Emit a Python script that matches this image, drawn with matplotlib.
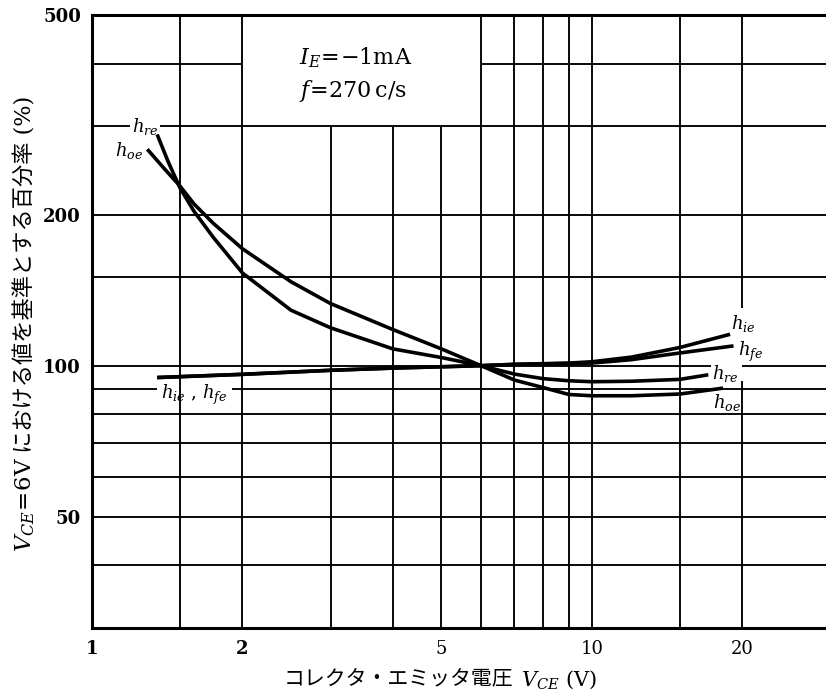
"""h パラメータの V_CE 依存性 (V_CE=6V 基準の百分率), 両対数グラフ"""
import matplotlib
matplotlib.use("Agg")
import matplotlib.pyplot as plt
from matplotlib.ticker import NullLocator

plt.rcParams["font.family"] = ["DejaVu Serif", "Noto Sans CJK JP"]
plt.rcParams["mathtext.fontset"] = "dejavuserif"

# --- 読み取り値 (V_CE [V], 百分率 [%]) ---
hie_x = [1.35, 2, 3, 4, 5, 6, 7, 9, 10, 12, 15, 18.9]
hie_y = [94.7, 96.1, 97.9, 98.9, 99.5, 100, 100.6, 101.2, 101.8, 104.0, 108.7, 115.5]
hfe_x = [1.35, 2, 3, 4, 5, 6, 7, 9, 10, 12, 15, 19.2]
hfe_y = [94.7, 96.1, 97.9, 98.9, 99.5, 100, 100.6, 101.0, 101.2, 102.8, 106.0, 109.5]
hre_x = [1.35, 1.42, 1.5, 1.6, 1.75, 2, 2.5, 3, 4, 5, 6, 7, 8, 9, 10, 12, 15, 17.1]
hre_y = [289, 255, 226, 203, 180, 153, 129, 119, 108, 103.8, 100,
         96.2, 94.2, 93.3, 92.9, 93.1, 93.9, 95.9]
hoe_x = [1.29, 1.4, 1.5, 1.6, 1.75, 2, 2.5, 3, 4, 5, 6, 7, 8, 9, 10, 12, 15, 18.3]
hoe_y = [270, 246, 228, 210, 192, 171, 147, 133, 118, 108, 100,
         93.6, 90.4, 87.6, 87.1, 87.1, 87.8, 90.2]

xticks = [1, 2, 5, 10, 20]
yticks = [50, 100, 200, 500]

# 方眼 (手書き風に一部途切れる)
XMAX = 29.4
vgrid_full = [1.5, 2, 6, 7, 8, 9, 10, 15]
vgrid_low = [3, 4, 5]            # 条件枠の下だけ
hgrid_full = [40, 50, 60, 70, 80, 150, 200]
hgrid_seg = {90: [(1, 1.35), (1.91, XMAX)],
             100: [(1, 17.3), (20, XMAX)],
             300: [(1, 1.19), (1.37, XMAX)],
             400: [(1, 2), (6, XMAX)]}
v20_seg = [(30, 93), (130, 500)]

fig = plt.figure(figsize=(8.26, 6.97), dpi=100)
ax = fig.add_axes([0.1114, 0.0990, 0.8886, 0.8795])
ax.set_xscale("log")
ax.set_yscale("log")
ax.set_xlim(1, XMAX)
ax.set_ylim(30, 500)

glw = 1.35
ax.vlines(vgrid_full, 30, 500, color="k", lw=glw, zorder=1)
ax.vlines(vgrid_low, 30, 300, color="k", lw=glw, zorder=1)
for y0, y1 in v20_seg:
    ax.vlines(20, y0, y1, color="k", lw=glw, zorder=1)
ax.hlines(hgrid_full, 1, XMAX, color="k", lw=glw, zorder=1)
for yv, segs in hgrid_seg.items():
    for x0, x1 in segs:
        ax.hlines(yv, x0, x1, color="k", lw=glw, zorder=1)

clw = 2.6
for xs, ys in [(hie_x, hie_y), (hfe_x, hfe_y), (hre_x, hre_y), (hoe_x, hoe_y)]:
    ax.plot(xs, ys, color="k", lw=clw, solid_capstyle="butt",
            solid_joinstyle="round", zorder=3)

# 曲線名
lab = dict(fontsize=13, ha="center", va="center", zorder=4)
ax.text(1.277, 300, r"$h_{re}$", **lab)
ax.text(1.186, 268, r"$h_{oe}$", **lab)
ax.text(1.60, 87.4, r"$h_{ie}\ ,\,h_{fe}$", **lab)
ax.text(20.1, 121.6, r"$h_{ie}$", **lab)
ax.text(20.8, 106.7, r"$h_{fe}$", **lab)
ax.text(18.5, 96.3, r"$h_{re}$", **lab)
ax.text(18.6, 84.3, r"$h_{oe}$", **lab)

# 測定条件
ax.text(2.6, 411, r"$I_E\!=\!{-}1\mathrm{mA}$", fontsize=16, ha="left", va="center")
ax.text(2.6, 352, r"$f\!=\!270\,\mathrm{c/s}$", fontsize=16, ha="left", va="center")

ax.set_xticks(xticks)
ax.set_xticklabels([str(v) for v in xticks])
ax.set_yticks(yticks)
ax.set_yticklabels([str(v) for v in yticks])
ax.xaxis.set_minor_locator(NullLocator())
ax.yaxis.set_minor_locator(NullLocator())
ax.tick_params(length=0, labelsize=13)
ax.tick_params(axis="x", pad=9)
ax.tick_params(axis="y", pad=8)
for t in ax.get_yticklabels():
    t.set_fontweight("bold")
for t in ax.get_xticklabels()[:2]:
    t.set_fontweight("bold")

for s in ["top", "bottom", "left"]:
    ax.spines[s].set_linewidth(2.2)
ax.spines["right"].set_visible(False)

# 軸ラベル: 数式部分と和文部分を分けて置く (mathtext は CJK を描けない)
tr = ax.transAxes
ax.text(-0.091, 0.279, r"$V_{CE}\!=\!\mathrm{6V}$", transform=tr, fontsize=16.5,
        rotation=90, rotation_mode="anchor", ha="right", va="center")
ax.text(-0.091, 0.286, "における値を基準とする百分率 (%)", transform=tr,
        fontsize=16, rotation=90, rotation_mode="anchor", ha="left", va="center")
ax.text(0.5736, -0.085, "コレクタ・エミッタ電圧", transform=tr, fontsize=15,
        ha="right", va="center")
ax.text(0.584, -0.085, r"$V_{CE}$ (V)", transform=tr, fontsize=15,
        ha="left", va="center")

fig.savefig("out.png", dpi=100)
print("saved out.png")
